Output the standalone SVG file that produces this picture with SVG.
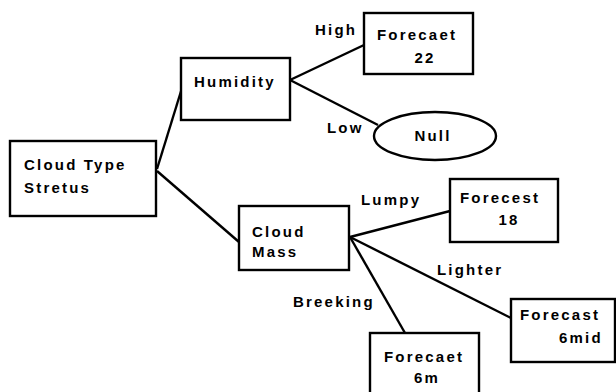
<svg xmlns="http://www.w3.org/2000/svg" width="616" height="392" viewBox="0 0 616 392">
<style>
.box{fill:#fff;stroke:#000;stroke-width:2.4}
.t{font-family:"Liberation Sans",Arial,sans-serif;font-weight:bold;font-size:15px;letter-spacing:2.2px;fill:#000}
.c{stroke:#000;stroke-width:2.4;fill:none}
</style>
<rect width="616" height="392" fill="#fff"/>
<g id="connectors">
<line class="c" x1="157" y1="169" x2="182" y2="88"/>
<line class="c" x1="157" y1="171" x2="239" y2="242"/>
<line class="c" x1="290" y1="80" x2="364" y2="45"/>
<line class="c" x1="290" y1="80" x2="378" y2="125"/>
<line class="c" x1="350" y1="237" x2="450" y2="211"/>
<line class="c" x1="350" y1="237" x2="511" y2="318"/>
<line class="c" x1="350" y1="237" x2="405" y2="333"/>
<text class="t" x="315" y="35">High</text>
<text class="t" x="327" y="133">Low</text>
<text class="t" x="361" y="205">Lumpy</text>
<text class="t" x="437" y="275">Lighter</text>
<text class="t" x="293" y="307">Breeking</text>
</g>
<g id="cloudtype">
<rect class="box" x="10" y="141" width="146" height="75"/>
<text class="t" x="24" y="170">Cloud Type</text>
<text class="t" x="24" y="193">Stretus</text>
</g>
<g id="humidity">
<rect class="box" x="181" y="58" width="109" height="62"/>
<text class="t" x="194" y="87">Humidity</text>
</g>
<g id="forecast22">
<rect class="box" x="364" y="13" width="109" height="61"/>
<text class="t" x="377" y="40">Forecaet</text>
<text class="t" x="425" y="63" text-anchor="middle">22</text>
</g>
<g id="null">
<ellipse class="box" cx="435" cy="136" rx="61" ry="24"/>
<text class="t" x="433" y="141" text-anchor="middle">Null</text>
</g>
<g id="cloudmass">
<rect class="box" x="239" y="206" width="110" height="64"/>
<text class="t" x="252" y="237">Cloud</text>
<text class="t" x="252" y="257">Mass</text>
</g>
<g id="forecast18">
<rect class="box" x="450" y="179" width="108" height="63"/>
<text class="t" x="460" y="203">Forecest</text>
<text class="t" x="509" y="225" text-anchor="middle">18</text>
</g>
<g id="forecast6mid">
<rect class="box" x="511" y="299" width="104" height="63"/>
<text class="t" x="520" y="320">Forecast</text>
<text class="t" x="559" y="343">6mid</text>
</g>
<g id="forecast6m">
<rect class="box" x="370" y="333" width="109" height="64"/>
<text class="t" x="384" y="362">Forecaet</text>
<text class="t" x="414" y="383">6m</text>
</g>
</svg>
